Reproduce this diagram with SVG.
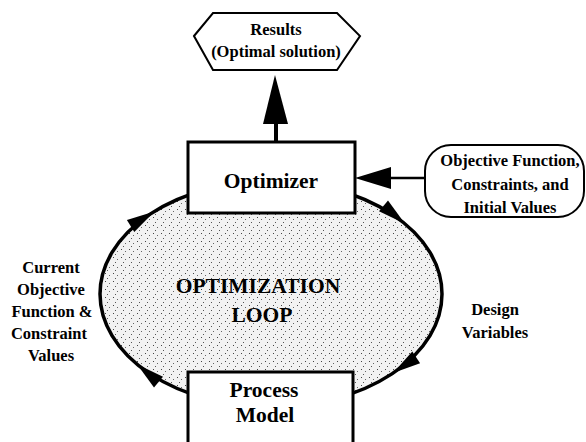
<svg xmlns="http://www.w3.org/2000/svg" width="586" height="442" viewBox="0 0 586 442">
<style>
text{font-family:"Liberation Serif","Times New Roman",serif;font-weight:bold;fill:#000;text-anchor:middle}
.lbl{font-size:16.5px}
.big{font-size:21.5px}
.box{fill:#fff;stroke:#000;stroke-width:3}
.thin{fill:#fff;stroke:#000;stroke-width:2}
.head{fill:#000;stroke:none}
</style>
<defs>
<pattern id="stip" width="8" height="8" patternUnits="userSpaceOnUse">
<rect width="8" height="8" fill="#f2f2f2"/>
<rect x="1" y="1" width="1" height="1" fill="#444"/>
<rect x="5" y="3" width="1" height="1" fill="#666"/>
<rect x="3" y="6" width="1" height="1" fill="#555"/>
</pattern>
</defs>
<rect width="586" height="442" fill="#fff"/>
<g id="loop">
<ellipse cx="271" cy="294" rx="171" ry="113" fill="url(#stip)" stroke="#000" stroke-width="3.5"/>
<text class="big" x="258" y="293">OPTIMIZATION</text>
<text class="big" x="262" y="322">LOOP</text>
</g>
<g id="connectors">
<rect x="274" y="120" width="4" height="23" fill="#000"/>
<polygon class="head" points="275,75 263,124 288,124"/>
<line x1="426" y1="178" x2="388" y2="178" stroke="#000" stroke-width="2.5"/>
<polygon class="head" points="355,178 391,167 391,189"/>
<polygon class="head" points="154.4,211.4 134.3,232.1 126.9,220.1"/>
<polygon class="head" points="405,223.8 379,211.3 388,200.5"/>
<polygon class="head" points="393,373 412.3,351.6 420.1,363.2"/>
<polygon class="head" points="137,364.2 163,376.7 154,387.5"/>
</g>
<g id="results">
<polygon class="thin" points="194,36 213,13 337,13 360,36 337,70 213,70"/>
<text class="lbl" x="276" y="35">Results</text>
<text class="lbl" x="276" y="57">(Optimal solution)</text>
</g>
<g id="optimizer">
<rect class="box" x="188" y="142" width="167" height="71"/>
<text class="big" x="271" y="188">Optimizer</text>
</g>
<g id="inputs">
<rect class="thin" x="425" y="145" width="159" height="72" rx="26" ry="26"/>
<text class="lbl" x="510" y="166">Objective Function,</text>
<text class="lbl" x="510" y="190">Constraints, and</text>
<text class="lbl" x="510" y="213">Initial Values</text>
</g>
<g id="process-model">
<rect class="box" x="188" y="372" width="165" height="80"/>
<text class="big" x="264" y="397">Process</text>
<text class="big" x="265" y="422">Model</text>
</g>
<g id="label-current">
<text class="lbl" x="51" y="273">Current</text>
<text class="lbl" x="51" y="295">Objective</text>
<text class="lbl" x="52" y="317">Function &amp;</text>
<text class="lbl" x="49" y="339">Constraint</text>
<text class="lbl" x="51" y="361">Values</text>
</g>
<g id="label-design">
<text class="lbl" x="495" y="315">Design</text>
<text class="lbl" x="495" y="338">Variables</text>
</g>
</svg>
